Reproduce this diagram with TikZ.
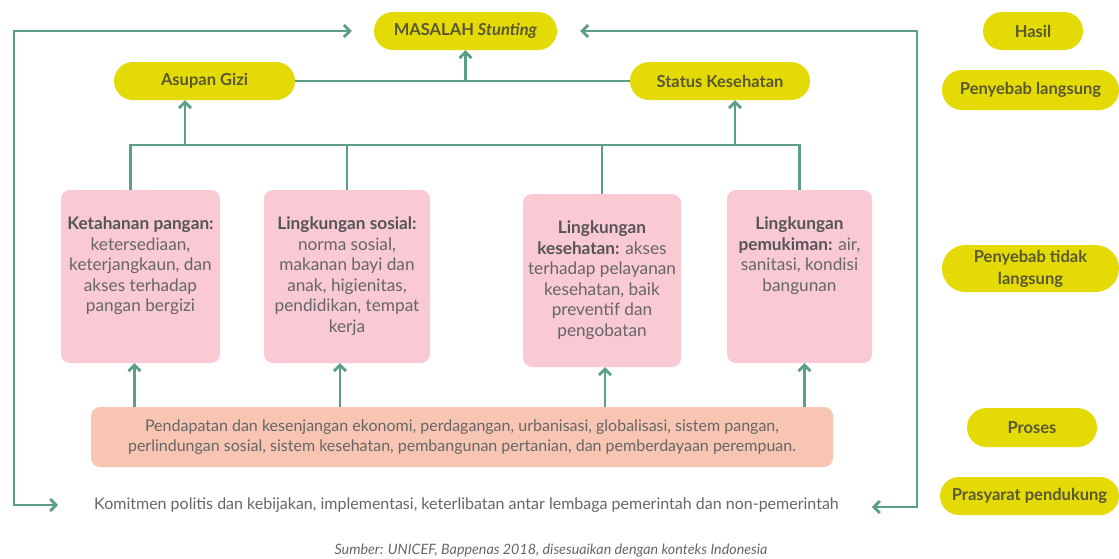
\documentclass[tikz,border=0pt]{standalone}
\usepackage{fontspec}
\setmainfont{Lato}
\usetikzlibrary{arrows.meta,shapes.misc}

\definecolor{linegreen}{HTML}{5C9F88}
\definecolor{pillyellow}{HTML}{E4DA05}
\definecolor{pilltext}{HTML}{5A5830}
\definecolor{cardpink}{HTML}{F9C9D4}
\definecolor{cardpeach}{HTML}{F7C5B1}
\definecolor{bodytext}{HTML}{666666}
\definecolor{headtext}{HTML}{555555}

\tikzset{
  pill/.style={rounded rectangle, fill=pillyellow, text=pilltext, inner sep=0pt,
    font=\bfseries\fontsize{16.5}{22}\selectfont, align=center},
  card/.style={rectangle, rounded corners=9pt, fill=cardpink, inner sep=0pt,
    text=bodytext, font=\fontsize{17.2}{20.5}\selectfont},
  link/.style={draw=linegreen, line width=2.8pt},
  tip/.tip={Straight Barb[length=6pt,width=12pt]},
  arr/.style={link, -tip},
  both/.style={link, tip-tip},
}

\newcommand{\cardtext}[2]{\parbox[c][119pt][t]{#1}{\centering #2}}
\newcommand{\hd}[1]{\textcolor{headtext}{\textbf{#1}}}

\begin{document}
\begin{tikzpicture}[x=1pt,y=-1pt]
\useasboundingbox[fill=white] (0,0) rectangle (1119,558);

% outcome and direct causes
\node[pill, minimum width=183pt, minimum height=38pt] (masalah) at (465.5,31) {MASALAH \textit{Stunting}};
\node[pill, minimum width=181pt, minimum height=38pt] (asupan) at (204.5,81) {Asupan Gizi};
\node[pill, minimum width=180pt, minimum height=38pt] (status) at (720,81) {Status Kesehatan};

% legend
\node[pill, minimum width=100pt, minimum height=38pt] (hasil) at (1033,31) {Hasil};
\node[pill, minimum width=177pt, minimum height=40pt] (langsung) at (1030.5,90) {Penyebab langsung};
\node[pill, minimum width=177pt, minimum height=47pt] (tidak) at (1030.5,268.5) {Penyebab tidak\\langsung};
\node[pill, minimum width=130pt, minimum height=39pt] (proses) at (1032,427.5) {Proses};
\node[pill, minimum width=179pt, minimum height=38pt] (prasyarat) at (1029.5,496) {Prasyarat pendukung};

% indirect causes
\node[card, minimum width=159pt, minimum height=173pt] (ketahanan) at (140.5,276.5)
  {\cardtext{155pt}{\hd{Ketahanan pangan:}\\ ketersediaan,\\ keterjangkaun, dan\\ akses terhadap\\ pangan bergizi}};
\node[card, minimum width=166pt, minimum height=173pt] (sosial) at (347,276.5)
  {\cardtext{160pt}{\hd{Lingkungan sosial:}\\ norma sosial,\\ makanan bayi dan\\ anak, higienitas,\\ pendidikan, tempat\\ kerja}};
\node[card, minimum width=158pt, minimum height=173pt] (kesehatan) at (602,280.5)
  {\cardtext{155pt}{\hd{Lingkungan}\\ \hd{kesehatan:} akses\\ terhadap pelayanan\\ kesehatan, baik\\ preventif dan\\ pengobatan}};
\node[card, minimum width=145pt, minimum height=173pt] (pemukiman) at (799.5,276.5)
  {\cardtext{142pt}{\hd{Lingkungan}\\ \hd{pemukiman:} air,\\ sanitasi, kondisi\\ bangunan}};

% process
\node[card, fill=cardpeach, minimum width=742pt, minimum height=60pt, align=center,
      font=\fontsize{16}{20}\selectfont] (faktor) at (462,437)
  {Pendapatan dan kesenjangan ekonomi, perdagangan, urbanisasi, globalisasi, sistem pangan,\\
   perlindungan sosial, sistem kesehatan, pembangunan pertanian, dan pemberdayaan perempuan.};

% enabling conditions and source
\node[inner sep=0pt, text=bodytext, font=\fontsize{16}{19}\selectfont] (komitmen) at (466.5,505)
  {Komitmen politis dan kebijakan, implementasi, keterlibatan antar lembaga pemerintah dan non-pemerintah};
\node[inner sep=0pt, text=bodytext, font=\itshape\fontsize{14.3}{16}\selectfont] (sumber) at (551,551)
  {Sumber: UNICEF, Bappenas 2018, disesuaikan dengan konteks Indonesia};

% direct causes to outcome
\draw[link] (asupan.east) -- (status.west);
\draw[arr] (masalah.south |- asupan.east) -- (masalah.south);

% indirect causes to direct causes
\coordinate (tier) at (0,145);
\draw[link] ([xshift=-10pt]ketahanan.north) |- (pemukiman.north |- tier) -- (pemukiman.north);
\draw[link] (sosial.north) -- (sosial.north |- tier);
\draw[link] (kesehatan.north) -- (kesehatan.north |- tier);
\draw[arr] ([xshift=-19.5pt]asupan.south |- tier) -- ([xshift=-19.5pt]asupan.south);
\draw[arr] ([xshift=15pt]status.south |- tier) -- ([xshift=15pt]status.south);

% process to indirect causes
\draw[arr] ([xshift=-6pt]ketahanan.south |- faktor.north) -- ([xshift=-6pt]ketahanan.south);
\draw[arr] ([xshift=-7pt]sosial.south |- faktor.north) -- ([xshift=-7pt]sosial.south);
\draw[arr] ([xshift=3pt]kesehatan.south |- faktor.north) -- ([xshift=3pt]kesehatan.south);
\draw[arr] ([xshift=5pt]pemukiman.south |- faktor.north) -- ([xshift=5pt]pemukiman.south);

% enabling loops
\coordinate (lcol) at (14,300);
\coordinate (rcol) at (917,300);
\draw[both] ([xshift=-36pt]komitmen.west) -| (lcol) |- ([xshift=-22pt]masalah.west);
\draw[both] ([xshift=33pt,yshift=-2pt]komitmen.east) -| (rcol) |- ([xshift=23pt]masalah.east);
\end{tikzpicture}
\end{document}
